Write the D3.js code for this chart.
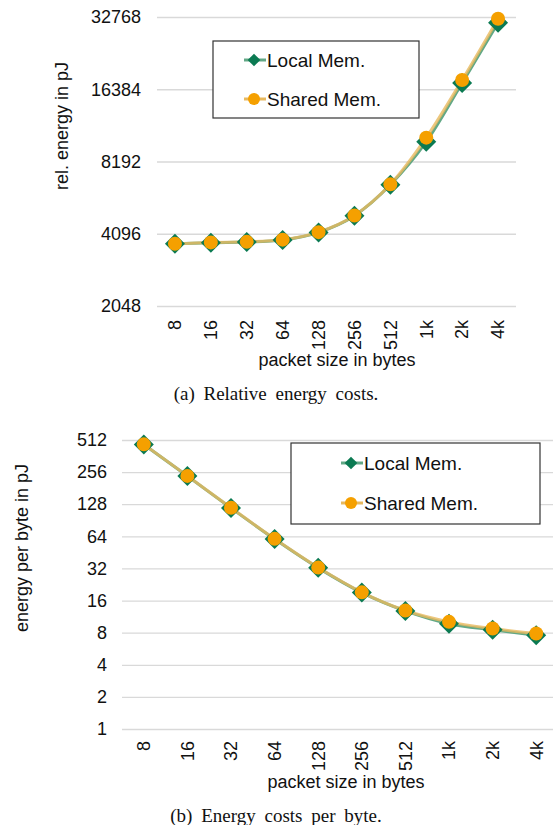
<!DOCTYPE html>
<html>
<head>
<meta charset="utf-8">
<script src="https://cdn.jsdelivr.net/npm/d3@7/dist/d3.min.js"></script>
<style>
  body { margin: 0; background: #fff; }
  svg { display: block; }
  text { font-family: "Liberation Sans", Arial, sans-serif; fill: #111; }
  .caption { font-family: "Liberation Serif", "Times New Roman", serif; word-spacing: 4px; }
</style>
</head>
<body>
<div id="chart"></div>
<script>
// packet sizes (categories)
const sizes = ['8', '16', '32', '64', '128', '256', '512', '1k', '2k', '4k'];

// (a) relative energy in pJ
const localRel  = [3720, 3760, 3780, 3860, 4150, 4870, 6550, 9900, 17400, 31000];
const sharedRel = [3720, 3770, 3790, 3870, 4160, 4880, 6580, 10300, 17900, 32200];
const relTicks = [2048, 4096, 8192, 16384, 32768];

// (b) energy per byte in pJ
const localPer  = [465, 235, 118, 60.3, 32.4, 19.0, 12.8, 9.7, 8.5, 7.57];
const sharedPer = [466, 236, 118.5, 60.6, 32.6, 19.1, 12.9, 10.1, 8.75, 7.86];
const perTicks = [1, 2, 4, 8, 16, 32, 64, 128, 256, 512];

const W = 553, H = 825;
const svg = d3.select('#chart').append('svg').attr('width', W).attr('height', H);

const colors = {
  localLine: '#62a886', localMark: '#0b7a52',
  sharedLine: '#e8b95e', sharedMark: '#f5a000'
};

function drawPanel(opt) {
  const x = d3.scaleBand().domain(sizes).range(opt.xRange);
  const y = d3.scaleLog().base(2).domain(opt.yDomain).range(opt.yRange);
  const g = svg.append('g');

  // gridlines + y labels
  const yAxis = g.append('g')
    .attr('transform', `translate(${opt.xRange[0]},0)`)
    .call(d3.axisLeft(y).tickValues(opt.ticks).tickFormat(d3.format('d'))
      .tickSize(-(opt.xRange[1] - opt.xRange[0])).tickPadding(opt.yPad));
  yAxis.select('.domain').remove();
  yAxis.selectAll('line').attr('stroke', '#d9d9d9').attr('stroke-width', 1.3);
  yAxis.selectAll('text').style('font-size', '18px').style('font-family', '"Liberation Sans", Arial, sans-serif').attr('fill', '#111');

  // x labels (rotated)
  const xAxis = g.append('g')
    .attr('transform', `translate(0,${opt.yRange[0]})`)
    .call(d3.axisBottom(x).tickSize(0).tickPadding(0));
  xAxis.select('.domain').remove();
  xAxis.selectAll('text')
    .style('font-size', '18px').style('font-family', '"Liberation Sans", Arial, sans-serif').attr('fill', '#111')
    .attr('text-anchor', 'end')
    .attr('transform', `translate(0,${opt.xPad}) rotate(-90)`)
    .attr('x', 0).attr('y', 0).attr('dy', '0.35em');

  const cx = (d, i) => x(sizes[i]) + x.bandwidth() / 2;
  const line = d3.line().x(cx).y(d => y(d)).curve(d3.curveMonotoneX);

  g.append('path').datum(opt.local).attr('d', line)
    .attr('fill', 'none').attr('stroke', colors.localLine).attr('stroke-width', 3);
  g.append('path').datum(opt.shared).attr('d', line)
    .attr('fill', 'none').attr('stroke', colors.sharedLine).attr('stroke-width', 3).attr('opacity', 0.8);

  g.selectAll('.dia').data(opt.local).join('path').attr('class', 'dia')
    .attr('d', d3.symbol(d3.symbolSquare, 200))
    .attr('transform', (d, i) => `translate(${cx(d, i)},${y(d)}) rotate(45)`)
    .attr('fill', colors.localMark);
  g.selectAll('.dot').data(opt.shared).join('circle').attr('class', 'dot')
    .attr('cx', cx).attr('cy', d => y(d)).attr('r', 7)
    .attr('fill', colors.sharedMark);

  // axis titles
  g.append('text')
    .attr('transform', `translate(${opt.yTitle[0]},${opt.yTitle[1]}) rotate(-90)`)
    .attr('text-anchor', 'middle').attr('dy', '0.35em').style('font-size', '18px')
    .text(opt.yLabel);
  g.append('text').attr('x', opt.xTitle[0]).attr('y', opt.xTitle[1])
    .attr('text-anchor', 'middle').attr('dy', '0.35em').style('font-size', '18px')
    .text('packet size in bytes');
  g.append('text').attr('class', 'caption').attr('x', 276).attr('y', opt.capY)
    .attr('text-anchor', 'middle').attr('dy', '0.35em').style('font-size', '19px')
    .text(opt.caption);

  // legend
  const [lx, ly, lw, lh] = opt.legend;
  const leg = g.append('g');
  leg.append('rect').attr('x', lx).attr('y', ly).attr('width', lw).attr('height', lh)
    .attr('fill', '#fff').attr('stroke', '#333').attr('stroke-width', 1.2);
  const items = [
    { name: 'Local Mem.', line: colors.localLine, mark: colors.localMark, sym: 'dia' },
    { name: 'Shared Mem.', line: colors.sharedLine, mark: colors.sharedMark, sym: 'dot' }
  ];
  items.forEach((it, i) => {
    const yy = opt.legendRows[i];
    const mx = opt.legendMark;
    leg.append('line').attr('x1', mx - 10).attr('x2', mx + 12).attr('y1', yy).attr('y2', yy)
      .attr('stroke', it.line).attr('stroke-width', 3);
    if (it.sym === 'dia') {
      leg.append('path').attr('d', d3.symbol(d3.symbolSquare, 80))
        .attr('transform', `translate(${mx},${yy}) rotate(45)`).attr('fill', it.mark);
    } else {
      leg.append('circle').attr('cx', mx).attr('cy', yy).attr('r', 6).attr('fill', it.mark);
    }
    leg.append('text').attr('x', mx + 13).attr('y', yy).attr('dy', '0.35em')
      .style('font-size', '19px').text(it.name);
  });
}

drawPanel({
  xRange: [157, 516], yDomain: [2048, 32768], yRange: [306, 17], ticks: relTicks,
  yPad: 16, xPad: 14, local: localRel, shared: sharedRel,
  yLabel: 'rel. energy in pJ', yTitle: [62, 126], xTitle: [337, 360],
  caption: '(a) Relative energy costs.', capY: 393,
  legend: [213, 41, 206, 77], legendRows: [60, 99], legendMark: 254
});

drawPanel({
  xRange: [122, 558], yDomain: [1, 512], yRange: [729, 440], ticks: perTicks,
  yPad: 15, xPad: 12, local: localPer, shared: sharedPer,
  yLabel: 'energy per byte in pJ', yTitle: [22, 548], xTitle: [346, 782],
  caption: '(b) Energy costs per byte.', capY: 815,
  legend: [291, 443, 249, 81], legendRows: [463, 503], legendMark: 351
});
</script>
</body>
</html>
